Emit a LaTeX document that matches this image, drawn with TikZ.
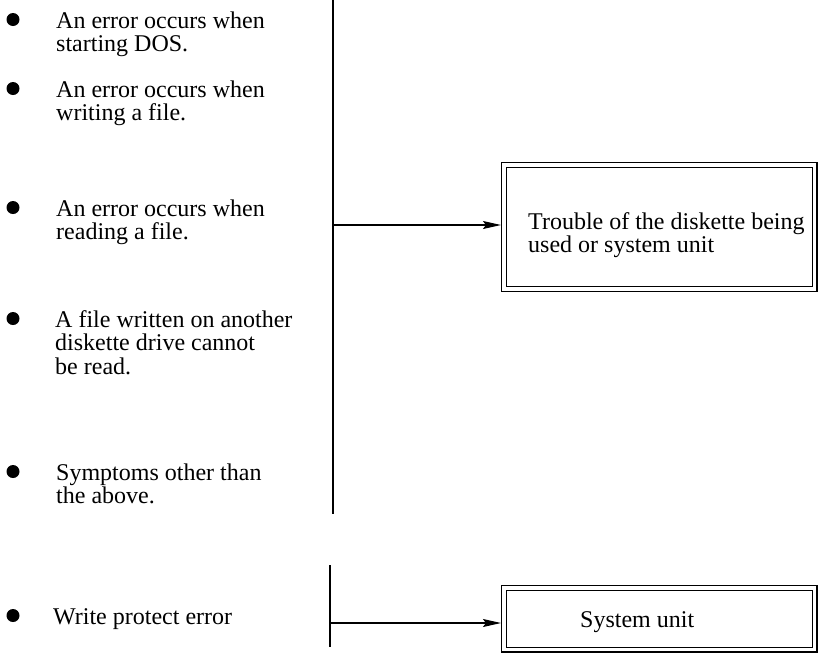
\documentclass[tikz,border=0pt]{standalone}
\usepackage{fontspec}
\setmainfont{Liberation Serif}
\usetikzlibrary{arrows.meta,positioning}

\begin{document}
\begin{tikzpicture}[x=1pt,y=-1pt,
  item/.style={anchor=base west,align=left,inner sep=0pt,
               font=\fontsize{24}{23.5}\selectfont},
  dot/.style={circle,fill=black,draw=none,inner sep=0pt,minimum size=13pt},
  frame/.style={draw,double,line width=1.1pt,double distance=3.6pt,
                outer sep=2.9pt,inner sep=0pt,minimum width=310.8pt},
  arr/.style={-{Stealth[length=18pt,width=8pt,inset=3pt]},line width=1.1pt},
  rule/.style={line width=1.4pt}]
\useasboundingbox (0,0) rectangle (818,654);
%%
%% Symptoms (left column), placed by the baseline of their last line
\node[dot]  (d1) at (13, 19.5) {};
\node[item] (s1) at (56, 51.5) {An error occurs when\\starting DOS.};
\node[dot]  (d2) at (13, 88.5) {};
\node[item] (s2) at (56,120.5) {An error occurs when\\writing a file.};
\node[dot]  (d3) at (13,207.5) {};
\node[item] (s3) at (56,239.5) {An error occurs when\\reading a file.};
\node[dot]  (d4) at (13,318.5) {};
\node[item] (s4) at (55,374)   {A file written on another\\diskette drive cannot\\be read.};
\node[dot]  (d5) at (13,471.5) {};
\node[item] (s5) at (56,503.5) {Symptoms other than\\the above.};
\node[dot]  (d6) at (13,615.5) {};
\node[item] (s6) at (53,624)   {Write protect error};
%%
%% Results (right column)
\node[frame,minimum height=124.3pt] (trouble) at (659.25,227) {};
\node[item] (troubletxt) at (528,252.5) {Trouble of the diskette being\\used or system unit};
\node[frame,minimum height=61.8pt] (unit) at (659.25,618.75) {};
\node[item] (unittxt) at (580,627) {System unit};
%%
%% Brackets joining the symptoms
\coordinate (top1) at (333,0);
\coordinate (bot1) at (333,514);
\coordinate (top2) at (330,565);
\coordinate (bot2) at (330,647);
\draw[rule] (top1) -- (bot1);
\draw[rule] (top2) -- (bot2);
%%
%% Arrows to the results
\coordinate (fork1) at (333,225);
\coordinate (fork2) at (330,623);
\draw[arr] (fork1) -- (fork1 -| trouble.west);
\draw[arr] (fork2) -- (fork2 -| unit.west);
\end{tikzpicture}
\end{document}
